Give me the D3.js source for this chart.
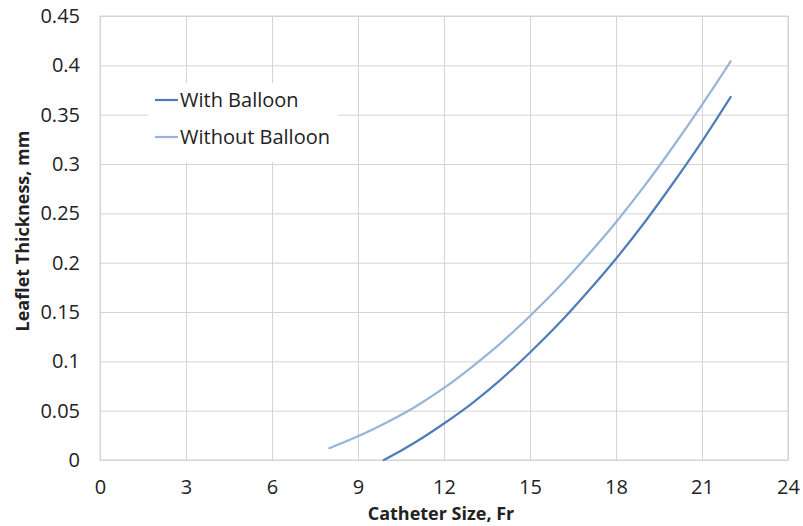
<!DOCTYPE html>
<html>
<head>
<meta charset="utf-8">
<script src="https://cdn.jsdelivr.net/npm/d3@7"></script>
<style>
  html, body { margin: 0; padding: 0; background: #fff; }
  svg { display: block; }
  text { font-family: "Open Sans", "Liberation Sans", sans-serif; fill: #222; }
</style>
</head>
<body>
<svg id="chart" width="803" height="526"></svg>
<script>
// Catheter size (Fr) against leaflet thickness (mm)
const withBalloonX = [9.9, 10, 11, 12, 13, 14, 15, 16, 17, 18, 19, 20, 21, 22];
const withBalloonY = [0, 0.0015, 0.018, 0.037, 0.058, 0.082, 0.109, 0.138, 0.170, 0.204, 0.241, 0.281, 0.323, 0.368];

const withoutBalloonX = [8, 9, 10, 11, 12, 13, 14, 15, 16, 17, 18, 19, 20, 21, 22];
const withoutBalloonY = [0.012, 0.024, 0.038, 0.054, 0.073, 0.095, 0.119, 0.146, 0.175, 0.207, 0.241, 0.278, 0.318, 0.360, 0.404];

const xTicks = [0, 3, 6, 9, 12, 15, 18, 21, 24];
const yTicks = [0, 0.05, 0.1, 0.15, 0.2, 0.25, 0.3, 0.35, 0.4, 0.45];

const seriesNames = ["With Balloon", "Without Balloon"];
const seriesColors = ["#4f7db8", "#98b4da"];

const svg = d3.select("#chart");
const plot = { left: 100, right: 788, top: 16, bottom: 460 };

const x = d3.scaleLinear().domain([0, 24]).range([plot.left, plot.right]);
const y = d3.scaleLinear().domain([0, 0.45]).range([plot.bottom, plot.top]);

const grid = "#d4d4d4";

// vertical gridlines and x tick labels
svg.append("g")
  .attr("transform", `translate(0,${plot.bottom})`)
  .call(d3.axisBottom(x).tickValues(xTicks).tickSize(-(plot.bottom - plot.top)).tickFormat(d => d).tickPadding(20))
  .call(g => g.select(".domain").remove())
  .call(g => g.selectAll("line").attr("stroke", grid).attr("stroke-width", 1))
  .call(g => g.selectAll("text").attr("font-size", 20).attr("fill", "#222")
                 .attr("font-family", "'Open Sans', sans-serif"));

// horizontal gridlines and y tick labels
svg.append("g")
  .attr("transform", `translate(${plot.left},0)`)
  .call(d3.axisLeft(y).tickValues(yTicks).tickSize(-(plot.right - plot.left)).tickFormat(d => String(+d.toFixed(2))).tickPadding(20))
  .call(g => g.select(".domain").remove())
  .call(g => g.selectAll("line").attr("stroke", grid).attr("stroke-width", 1))
  .call(g => g.selectAll("text").attr("font-size", 20).attr("fill", "#222")
                 .attr("font-family", "'Open Sans', sans-serif"));

// plot frame
svg.append("rect")
  .attr("x", plot.left).attr("y", plot.top)
  .attr("width", plot.right - plot.left).attr("height", plot.bottom - plot.top)
  .attr("fill", "none").attr("stroke", grid).attr("stroke-width", 1);

// legend backing
svg.append("rect")
  .attr("x", 148).attr("y", 83).attr("width", 190).attr("height", 79)
  .attr("fill", "#fff");

const line = d3.line()
  .x(d => x(d[0]))
  .y(d => y(d[1]))
  .curve(d3.curveMonotoneX);

const series = [
  d3.zip(withBalloonX, withBalloonY),
  d3.zip(withoutBalloonX, withoutBalloonY)
];

svg.append("g")
  .selectAll("path")
  .data(series)
  .join("path")
  .attr("d", line)
  .attr("fill", "none")
  .attr("stroke", (d, i) => seriesColors[i])
  .attr("stroke-width", 2.2)
  .attr("stroke-linecap", "round");

// legend
const legend = svg.append("g");
seriesNames.forEach((name, i) => {
  const ly = 100 + i * 37;
  legend.append("line")
    .attr("x1", 155).attr("x2", 178)
    .attr("y1", ly).attr("y2", ly)
    .attr("stroke", seriesColors[i]).attr("stroke-width", 2.2);
  legend.append("text")
    .attr("x", 180).attr("y", ly)
    .attr("dy", "0.35em")
    .attr("font-size", 20)
    .text(name);
});

// axis titles
svg.append("text")
  .attr("x", 441).attr("y", 520)
  .attr("text-anchor", "middle")
  .attr("font-size", 18).attr("font-weight", "bold")
  .text("Catheter Size, Fr");

svg.append("text")
  .attr("transform", "translate(29,231) rotate(-90)")
  .attr("text-anchor", "middle")
  .attr("font-size", 18).attr("font-weight", "bold")
  .text("Leaflet Thickness, mm");
</script>
</body>
</html>
